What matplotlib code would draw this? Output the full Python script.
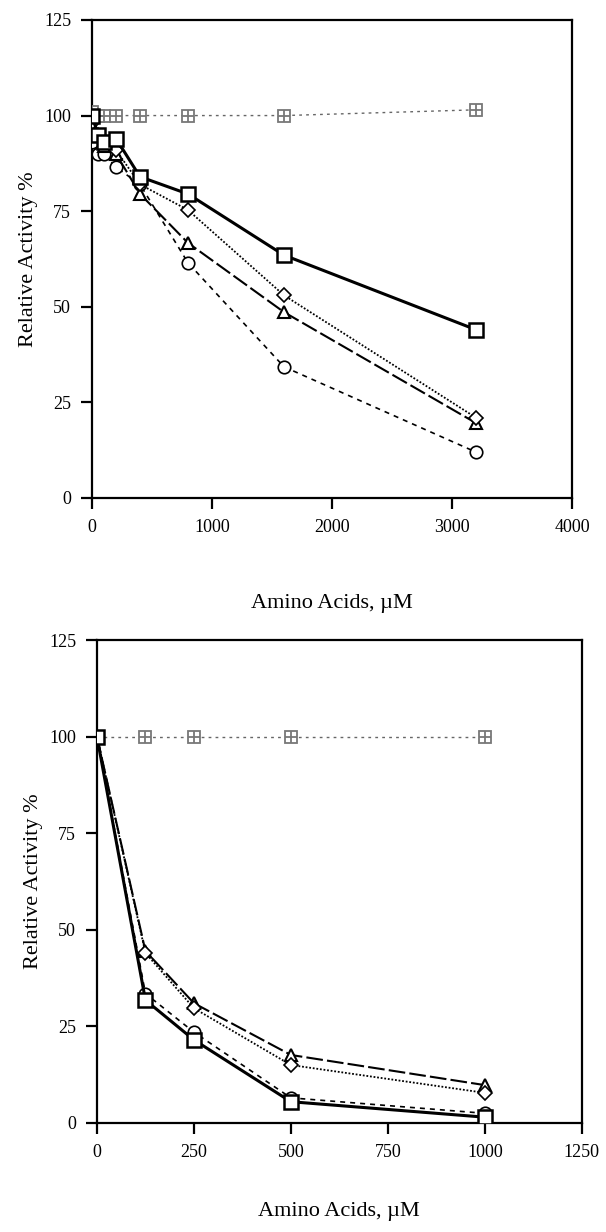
import matplotlib.pyplot as plt

plt.rcParams['font.family'] = ['Liberation Serif', 'DejaVu Serif']

# top panel
x_top = [0, 50, 100, 200, 400, 800, 1600, 3200]
sq_top = [100, 95, 93, 94, 84, 79.5, 63.5, 44]
ci_top = [93, 90, 90, 86.5, 82, 61.5, 34.3, 12]
tr_top = [97, 95, 92, 90, 79.5, 66.7, 48.6, 19.6]
di_top = [98, 95, 93, 91, 82, 75.3, 53, 21]
ht_top = [101, 100, 100, 100, 100, 100, 100, 101.5]

# bottom panel
x_bot = [0, 125, 250, 500, 1000]
sq_bot = [100, 31.8, 21.5, 5.5, 1.5]
ci_bot = [100, 33.5, 23.5, 6.5, 2.5]
tr_bot = [100, 44.5, 31, 17.6, 9.8]
di_bot = [100, 44, 29.7, 15, 7.8]
ht_bot = [100, 100, 100, 100, 100]

yticks = [0, 25, 50, 75, 100, 125]


def draw(ax, x, sq, ci, tr, di, ht):
    ax.plot(x, ht, ls=(0, (2, 3)), lw=1.0, color='#666666', zorder=2)
    ax.plot(x, ht, 's', ms=9, mfc='white', mec='#777777', mew=1.3, zorder=3)
    ax.plot(x, ht, '+', ms=8, mec='#777777', mew=1.3, zorder=4)
    ax.plot(x, ci, ls=(0, (3, 3)), lw=1.2, color='black', marker='o',
            ms=9, mfc='white', mec='black', mew=1.2, zorder=5)
    ax.plot(x, tr, ls=(0, (8, 2)), lw=1.5, color='black', marker='^',
            ms=9, mfc='white', mec='black', mew=1.5, zorder=6)
    ax.plot(x, di, ls=(0, (1, 1)), lw=1.3, color='black', marker='D',
            ms=7, mfc='white', mec='black', mew=1.2, zorder=7)
    ax.plot(x, sq, ls='-', lw=2.2, color='black', marker='s',
            ms=10, mfc='white', mec='black', mew=1.8, zorder=8)
    for s in ax.spines.values():
        s.set_linewidth(1.6)
    ax.set_ylim(0, 125)
    ax.set_yticks(yticks)
    ax.tick_params(direction='out', length=8, width=1.6, labelsize=13, pad=7)
    ax.set_ylabel('Relative Activity %', fontsize=16, labelpad=4)


fig = plt.figure(figsize=(6.06, 12.32), dpi=100)

ax1 = fig.add_axes([0.1518, 0.5958, 0.792, 0.388])
draw(ax1, x_top, sq_top, ci_top, tr_top, di_top, ht_top)
ax1.set_xlim(0, 4000)
ax1.set_xticks([0, 1000, 2000, 3000, 4000])
ax1.set_xlabel('Amino Acids, µM', fontsize=16, labelpad=42)

ax2 = fig.add_axes([0.160, 0.0885, 0.800, 0.392])
draw(ax2, x_bot, sq_bot, ci_bot, tr_bot, di_bot, ht_bot)
ax2.set_xlim(0, 1250)
ax2.set_xticks([0, 250, 500, 750, 1000, 1250])
ax2.set_xlabel('Amino Acids, µM', fontsize=16, labelpad=30)

fig.savefig('out.png', dpi=100)
